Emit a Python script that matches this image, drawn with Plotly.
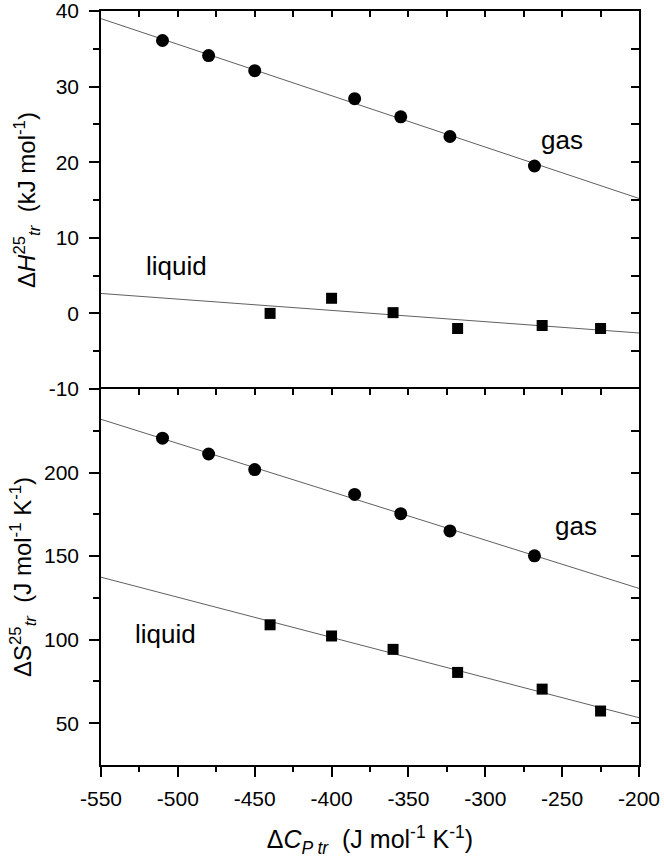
import numpy as np
import plotly.graph_objects as go

# ---- data ----
x_gas = [-510, -480, -450, -385, -355, -323, -268]
dH_gas = [36.1, 34.1, 32.1, 28.4, 26.0, 23.4, 19.5]
dS_gas = [220.6, 211.1, 201.8, 186.9, 175.4, 165.1, 150.2]

x_liq = [-440, -400, -360, -318, -263, -225]
dH_liq = [0.0, 2.0, 0.1, -2.0, -1.6, -2.0]
dS_liq = [108.9, 102.2, 94.2, 80.4, 70.4, 57.3]

x_range = [-550, -200]
yH_range = [-10, 40]
yS_range = [25, 250]
x_ticks = [-550, -500, -450, -400, -350, -300, -250, -200]
x_ticklabels = ["-550", "-500", "-450", "-400", "-350", "-300", "-250", "-200"]
x_minor = [-525, -475, -425, -375, -325, -275, -225]
yH_ticks = [-10, 0, 10, 20, 30, 40]
yH_ticklabels = ["-10", "0", "10", "20", "30", "40"]
yH_minor = [-5, 5, 15, 25, 35]
yS_ticks = [50, 100, 150, 200]
yS_ticklabels = ["50", "100", "150", "200"]
yS_minor = [75, 125, 175, 225]

FONT = "Liberation Sans, Arial, sans-serif"
fig = go.Figure()


def fit_line(xs, ys):
    k, b = np.polyfit(xs, ys, 1)
    xx = np.array(x_range, dtype=float)
    return xx, k * xx + b


line_style = dict(color="#606060", width=1)
circ = dict(symbol="circle", size=13, color="black")
sq = dict(symbol="square", size=11, color="black")

# top panel (x2, y2)
for xs, ys, m in [(x_gas, dH_gas, circ), (x_liq, dH_liq, sq)]:
    lx, ly = fit_line(xs, ys)
    fig.add_trace(go.Scatter(x=lx, y=ly, mode="lines", line=line_style,
                             xaxis="x2", yaxis="y2", showlegend=False, hoverinfo="skip"))
    fig.add_trace(go.Scatter(x=xs, y=ys, mode="markers", marker=m,
                             xaxis="x2", yaxis="y2", showlegend=False))

# bottom panel (x, y)
for xs, ys, m in [(x_gas, dS_gas, circ), (x_liq, dS_liq, sq)]:
    lx, ly = fit_line(xs, ys)
    fig.add_trace(go.Scatter(x=lx, y=ly, mode="lines", line=line_style,
                             xaxis="x", yaxis="y", showlegend=False, hoverinfo="skip"))
    fig.add_trace(go.Scatter(x=xs, y=ys, mode="markers", marker=m,
                             xaxis="x", yaxis="y", showlegend=False))

# invisible carriers so the mirrored (top/right) frame axes get drawn
fig.add_trace(go.Scatter(x=x_range, y=yS_range, mode="markers", marker=dict(opacity=0),
                         xaxis="x3", yaxis="y3", showlegend=False, hoverinfo="skip"))
fig.add_trace(go.Scatter(x=x_range, y=yH_range, mode="markers", marker=dict(opacity=0),
                         xaxis="x4", yaxis="y4", showlegend=False, hoverinfo="skip"))

split = (765 - 389) / 754.0

common = dict(showgrid=False, zeroline=False, showline=True, linecolor="black",
              linewidth=1.5, tickcolor="black", tickwidth=1.5, automargin=False,
              ticklabeloverflow="allow",
              tickfont=dict(family=FONT, size=21, color="black"))


def minor(vals, kind, ln):
    return dict(ticks=kind, ticklen=ln, tickvals=vals, tickcolor="black", tickwidth=1.5)


title_font = dict(family=FONT, size=24, color="black")

fig.update_layout(
    width=664, height=862,
    margin=dict(l=101, r=25, t=11, b=97),
    plot_bgcolor="white", paper_bgcolor="white",
    font=dict(family=FONT, color="black"),
    xaxis=dict(common, domain=[0, 1], anchor="y", range=x_range,
               tickmode="array", tickvals=x_ticks, ticktext=x_ticklabels,
               ticks="outside", ticklen=10, ticklabelstandoff=4,
               minor=minor(x_minor, "outside", 5),
               title=dict(text="Δ<i>C</i><sub><i>P tr</i></sub>  (J mol<sup>-1</sup> K<sup>-1</sup>)",
                          font=dict(family=FONT, size=25, color="black"), standoff=22)),
    xaxis2=dict(common, domain=[0, 1], anchor="y2", range=x_range,
                showticklabels=False, ticks="", showline=False),
    xaxis3=dict(common, overlaying="x", anchor="y", side="top", range=x_range,
                tickmode="array", tickvals=x_ticks, ticks="inside", ticklen=6,
                showticklabels=False, minor=minor(x_minor, "inside", 6)),
    xaxis4=dict(common, overlaying="x2", anchor="y2", side="top", range=x_range,
                tickmode="array", tickvals=x_ticks, ticks="inside", ticklen=6,
                showticklabels=False, minor=minor(x_minor, "inside", 6)),
    yaxis=dict(common, domain=[0, split], anchor="x", range=yS_range,
               tickmode="array", tickvals=yS_ticks, ticktext=yS_ticklabels,
               ticks="outside", ticklen=10, ticklabelstandoff=6,
               minor=minor(yS_minor, "outside", 6),
               title=dict(text="ΔS<sup>25</sup><sub><i>tr</i></sub>  (J mol<sup>-1</sup> K<sup>-1</sup>)",
                          font=title_font, standoff=6)),
    yaxis2=dict(common, domain=[split, 1], anchor="x2", range=yH_range,
                tickmode="array", tickvals=yH_ticks, ticktext=yH_ticklabels,
                ticks="outside", ticklen=10, ticklabelstandoff=6,
                minor=minor(yH_minor, "outside", 6),
                title=dict(text="Δ<i>H</i><sup>25</sup><sub><i>tr</i></sub>  (kJ mol<sup>-1</sup>)",
                           font=title_font, standoff=6)),
    yaxis3=dict(common, overlaying="y", anchor="x", side="right", range=yS_range,
                tickmode="array", tickvals=yS_ticks, ticks="inside", ticklen=8,
                showticklabels=False, minor=minor(yS_minor, "inside", 8)),
    yaxis4=dict(common, overlaying="y2", anchor="x2", side="right", range=yH_range,
                tickmode="array", tickvals=yH_ticks, ticks="inside", ticklen=8,
                showticklabels=False, minor=minor(yH_minor, "inside", 8)),
)

ann_font = dict(family=FONT, size=26, color="black")
fig.add_annotation(x=-250, y=22.9, xref="x2", yref="y2", text="gas", showarrow=False, font=ann_font)
fig.add_annotation(x=-501, y=6.3, xref="x2", yref="y2", text="liquid", showarrow=False, font=ann_font)
fig.add_annotation(x=-241, y=167.9, xref="x", yref="y", text="gas", showarrow=False, font=ann_font)
fig.add_annotation(x=-508, y=103.6, xref="x", yref="y", text="liquid", showarrow=False, font=ann_font)

fig.write_html("out.html", config={"displayModeBar": False},
               post_script="document.body.style.margin='0';")
